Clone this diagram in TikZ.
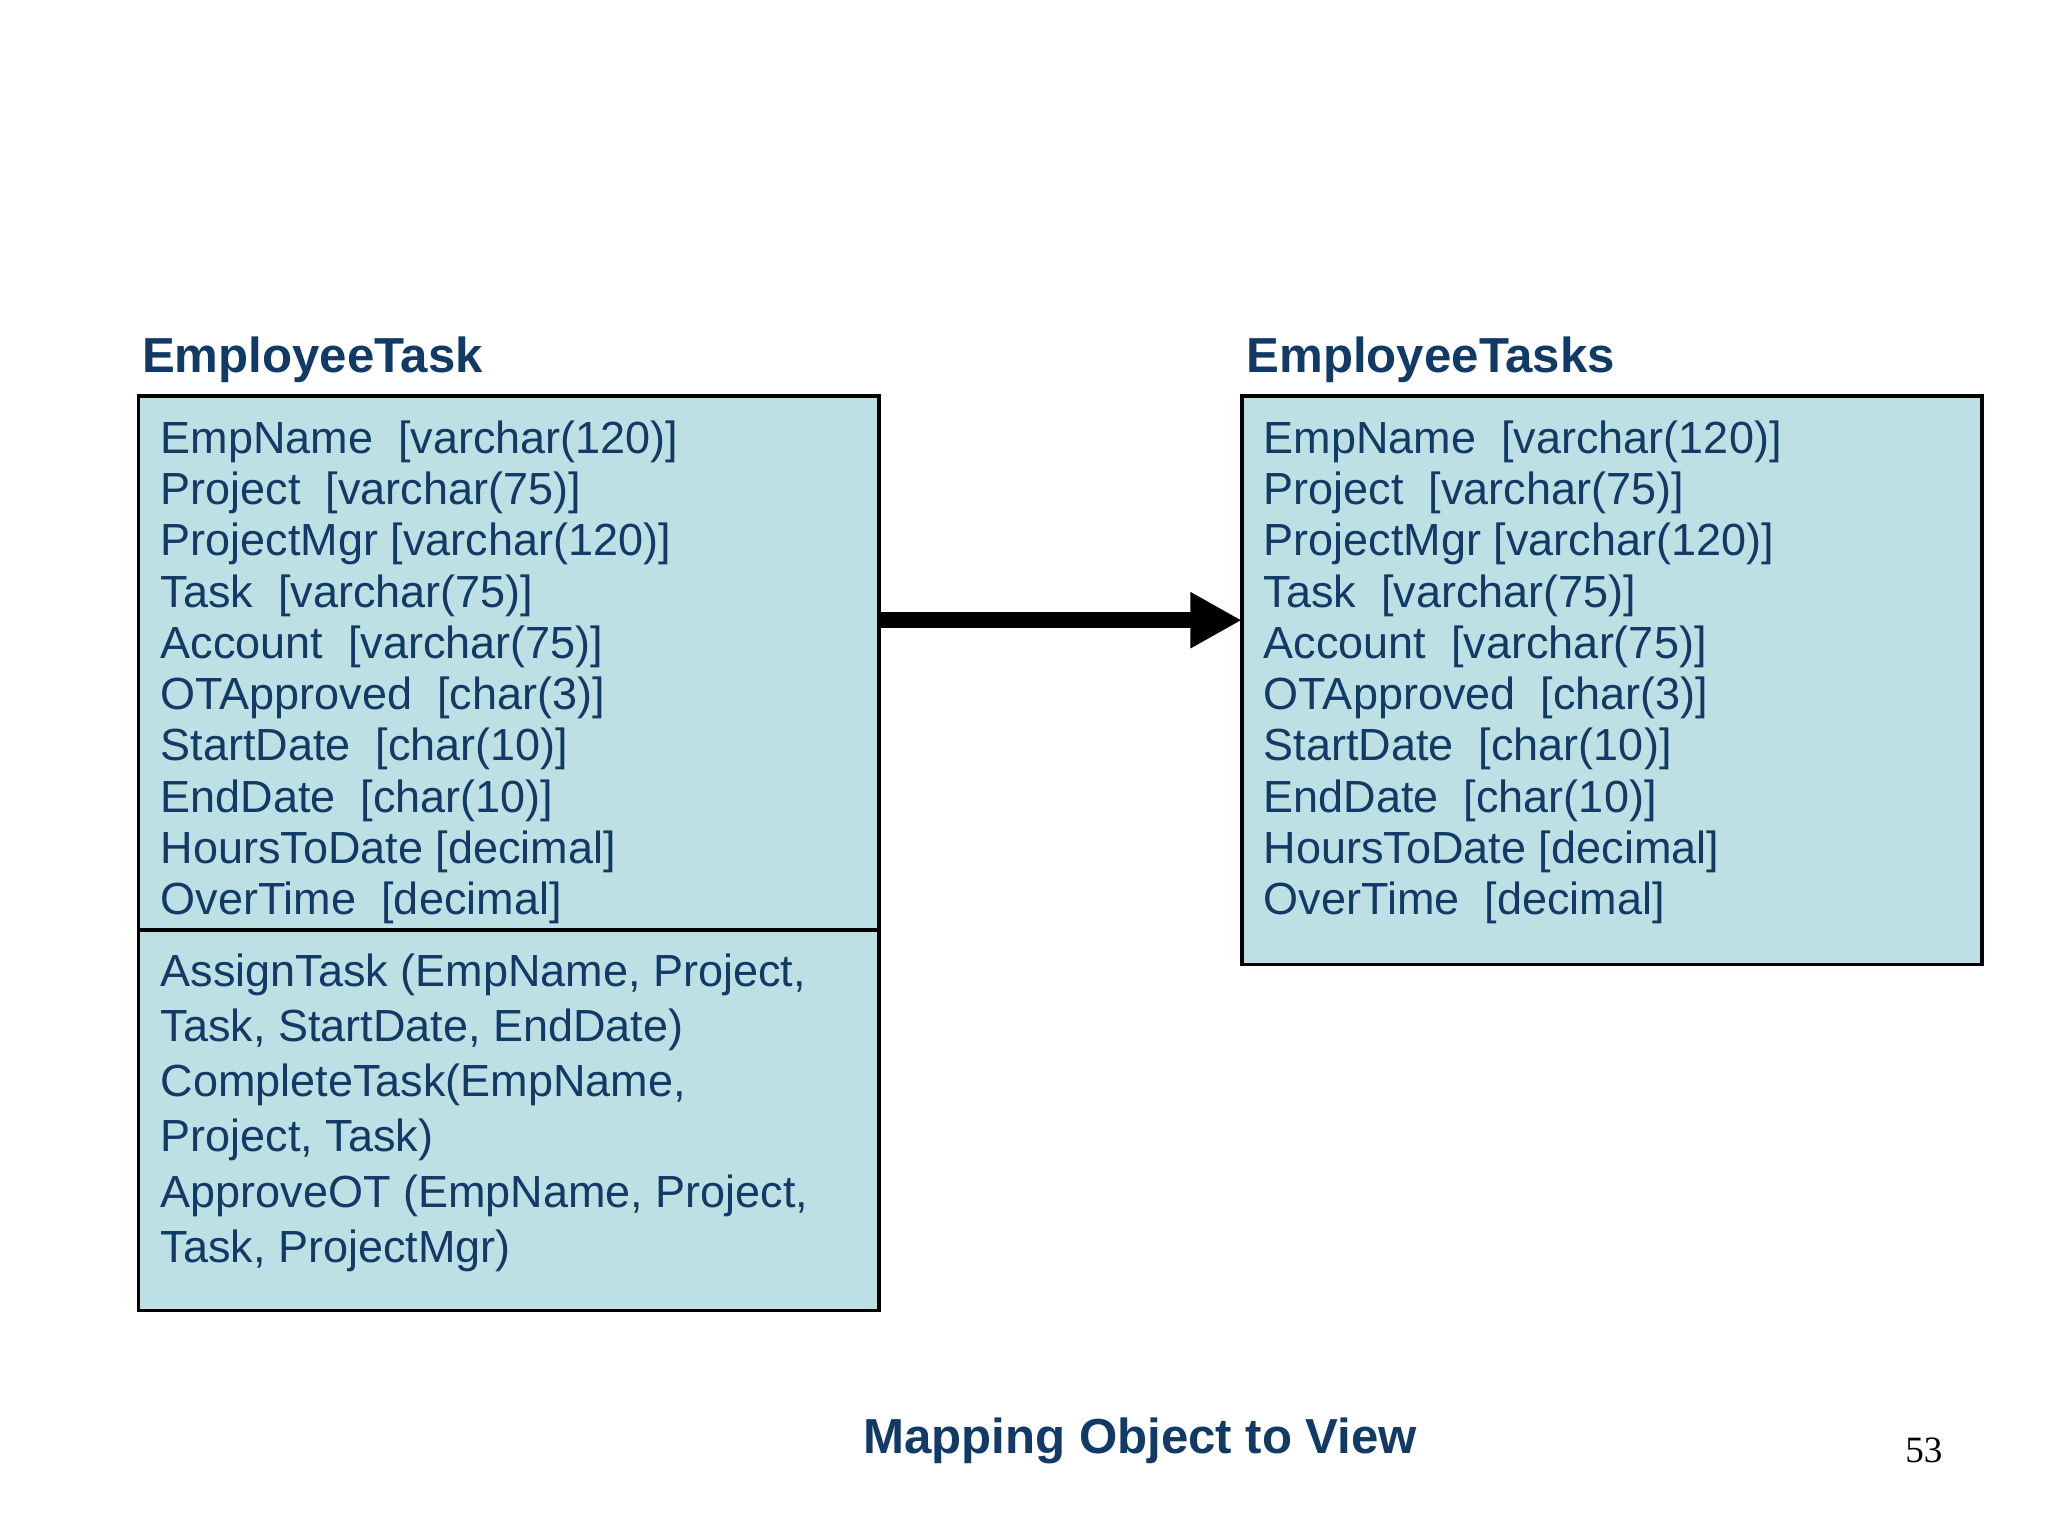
\documentclass[tikz,border=0pt]{standalone}
\usepackage{fontspec}
\setmainfont{Liberation Sans}
\usetikzlibrary{arrows.meta,positioning}
\definecolor{navy}{HTML}{123A66}
\definecolor{boxfill}{HTML}{BCE0E3}
\begin{document}
\begin{tikzpicture}[
                x=0.01cm, y=-0.01cm,
                tablebox/.style={draw=black, fill=boxfill, line width=0.8pt},
                title/.style={anchor=base west, inner sep=0, text=navy, font=\fontsize{10.6}{12}\selectfont\bfseries},
                fields/.style={anchor=north west, inner sep=0, align=left, text=navy, font=\fontsize{9.7}{11.05}\selectfont},
                methods/.style={anchor=north west, inner sep=0, align=left, text=navy, font=\fontsize{9.7}{11.9}\selectfont}
            ]
            \useasboundingbox (0,0) rectangle (1552,1164);
            % left class
            \node[title] (lefttitle) at (107,282) {EmployeeTask};
            \draw[tablebox] (105,300) rectangle (666,993);
            \draw[line width=0.8pt] (105,705) -- (666,705);
            \coordinate (leftport) at (666,470);
            \node[fields] (leftfields) at (121,318) {EmpName\ \ [varchar(120)]\\Project\ \ [varchar(75)]\\ProjectMgr [varchar(120)]\\Task\ \ [varchar(75)]\\Account\ \ [varchar(75)]\\OTApproved\ \ [char(3)]\\StartDate\ \ [char(10)]\\EndDate\ \ [char(10)]\\HoursToDate [decimal]\\OverTime\ \ [decimal]};
            \node[methods] (leftmethods) at (121,722) {AssignTask (EmpName, Project,\\Task, StartDate, EndDate)\\CompleteTask(EmpName,\\Project, Task)\\ApproveOT (EmpName, Project,\\Task, ProjectMgr)};
            % right view
            \node[title] (righttitle) at (944,282) {EmployeeTasks};
            \draw[tablebox] (941,300) rectangle (1502,731);
            \coordinate (rightport) at (941,470);
            \node[fields] (rightfields) at (957,318) {EmpName\ \ [varchar(120)]\\Project\ \ [varchar(75)]\\ProjectMgr [varchar(120)]\\Task\ \ [varchar(75)]\\Account\ \ [varchar(75)]\\OTApproved\ \ [char(3)]\\StartDate\ \ [char(10)]\\EndDate\ \ [char(10)]\\HoursToDate [decimal]\\OverTime\ \ [decimal]};
            % mapping arrow
            \draw[line width=0.12cm, -{Triangle[length=0.39cm,width=0.4cm]}] (leftport) -- (rightport);
            % footer
            \node[text=navy, font=\fontsize{10.6}{12}\selectfont\bfseries] (caption) at (864,1092) {Mapping Object to View};
            \node[font=\fontsize{8}{9}\selectfont\rmfamily] (pagenum) at (1458,1099) {\fontspec{Liberation Serif}53};
        \end{tikzpicture}
\end{document}
